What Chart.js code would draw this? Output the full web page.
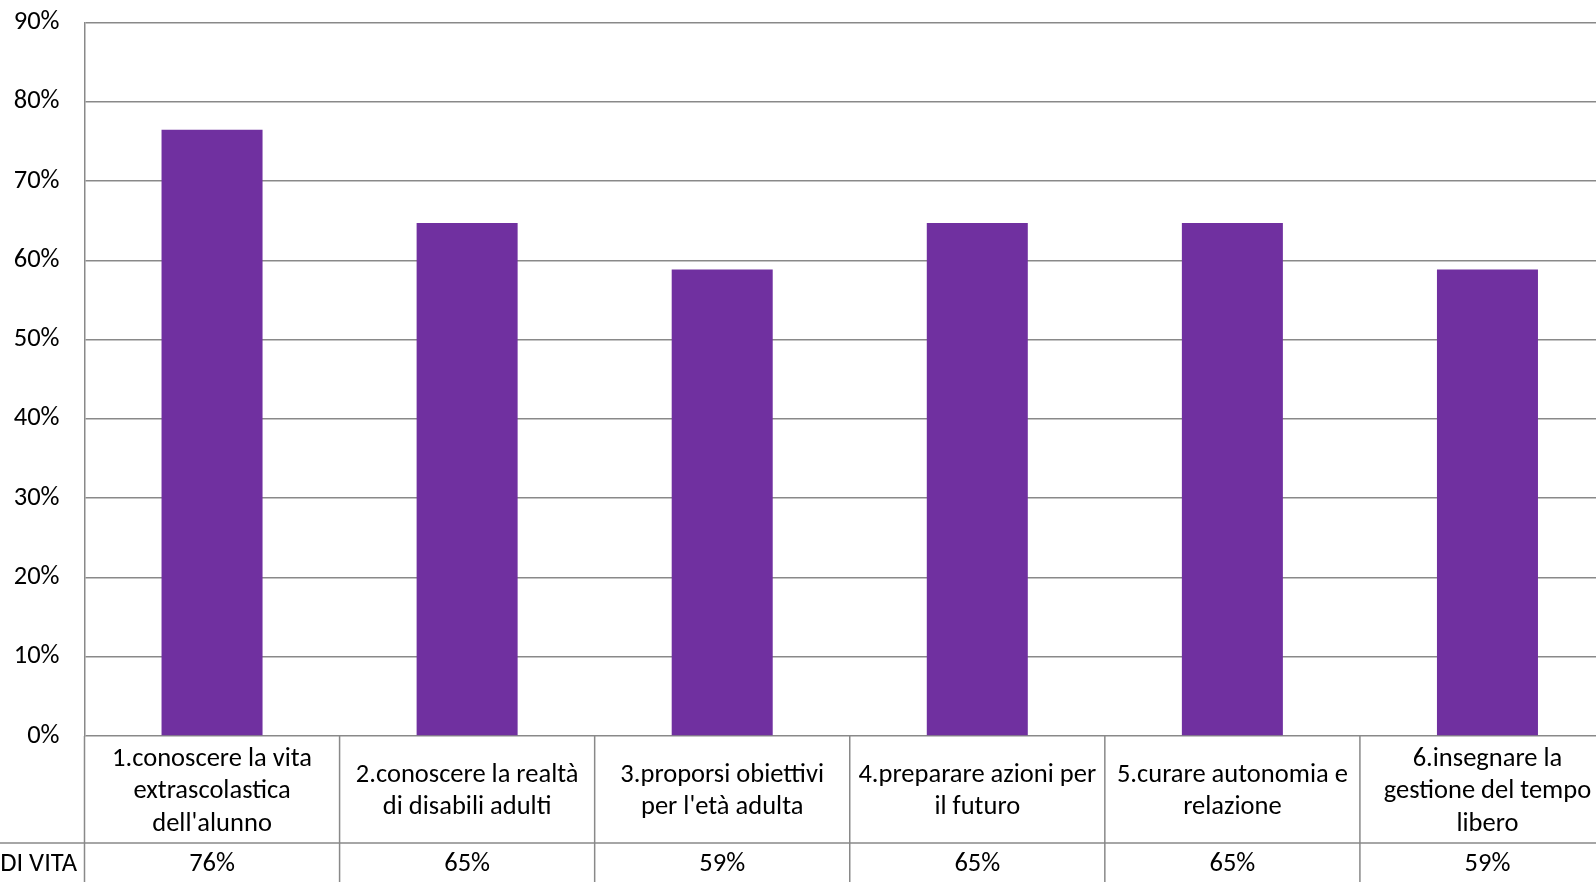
<!DOCTYPE html>
<html>
<head>
<meta charset="utf-8">
<script src="https://cdn.jsdelivr.net/npm/chart.js@4.4.1/dist/chart.umd.min.js"></script>
<style>
    html, body { margin: 0; padding: 0; background: #fff; overflow: hidden; }
    #wrap { position: relative; width: 1615px; height: 882px; }
</style>
</head>
<body>
<div id="wrap"><canvas id="chart"></canvas></div>
<script>
var categories = [
    ['1.conoscere la vita', 'extrascolastica', "dell'alunno"],
    ['2.conoscere la realtà', 'di disabili adulti'],
    ['3.proporsi obiettivi', "per l'età adulta"],
    ['4.preparare azioni per', 'il futuro'],
    ['5.curare autonomia e', 'relazione'],
    ['6.insegnare la', 'gestione del tempo', 'libero']
];
var values = [0.7647, 0.6471, 0.5882, 0.6471, 0.6471, 0.5882];
var tableValues = ['76%', '65%', '59%', '65%', '65%', '59%'];
var seriesName = 'PROGETTO DI VITA';
var yTickMax = 0.9;
var yTickStep = 0.1;

var FONT = 'Carlito, "Open Sans", sans-serif';
var FONT_SIZE = 26.5;
var LINE_COLOR = '#898989';
var TEXT_COLOR = '#000000';

// Excel-style data table under the plot, aligned on the x scale
var dataTable = {
    id: 'dataTable',
    afterDraw: function (chart) {
        var ctx = chart.ctx;
        var area = chart.chartArea;
        var x = chart.scales.x;
        var n = categories.length;
        var w = (area.right - area.left) / n;
        var top = area.bottom;
        var rowSplit = 843;
        var bottom = chart.height;

        ctx.save();
        ctx.strokeStyle = LINE_COLOR;
        ctx.lineWidth = 1.5;
        ctx.beginPath();
        ctx.moveTo(0, rowSplit);
        ctx.lineTo(area.right, rowSplit);
        for (var i = 0; i <= n; i++) {
            var bx = area.left + i * w;
            ctx.moveTo(bx, top);
            ctx.lineTo(bx, bottom);
        }
        ctx.stroke();

        ctx.fillStyle = TEXT_COLOR;
        ctx.font = FONT_SIZE + 'px ' + FONT;
        ctx.textAlign = 'center';
        ctx.textBaseline = 'middle';
        var lineH = 32.6;
        var midCat = (top + rowSplit) / 2 + 2;
        for (var j = 0; j < n; j++) {
            var cx = x.getPixelForValue(j);
            var lines = categories[j];
            var y0 = midCat - (lines.length - 1) * lineH / 2;
            for (var k = 0; k < lines.length; k++) {
                ctx.fillText(lines[k], cx, y0 + k * lineH);
            }
            ctx.fillText(tableValues[j], cx, 864);
        }
        ctx.textAlign = 'right';
        ctx.fillText(seriesName, 77, 864);
        ctx.restore();
    }
};

new Chart(document.getElementById('chart'), {
    type: 'bar',
    data: {
        labels: categories.map(function (c) { return c.join(' '); }),
        datasets: [
            {
                label: seriesName,
                data: values,
                backgroundColor: '#7030A0',
                borderWidth: 0,
                categoryPercentage: 1,
                barPercentage: 0.396
            }
        ]
    },
    options: {
        responsive: true,
        maintainAspectRatio: false,
        animation: false,
        layout: {
            padding: { top: 22.4, right: 0, bottom: 0, left: 0 }
        },
        plugins: {
            legend: { display: false },
            tooltip: { enabled: false }
        },
        scales: {
            x: {
                grid: { display: false, drawTicks: false },
                border: { display: false },
                ticks: { display: false },
                afterFit: function (scale) {
                    scale.height = 146;
                    scale.paddingLeft = 0;
                    scale.paddingRight = 0;
                }
            },
            y: {
                min: 0,
                max: yTickMax,
                ticks: {
                    stepSize: yTickStep,
                    padding: 25,
                    color: TEXT_COLOR,
                    font: { family: FONT, size: FONT_SIZE },
                    callback: function (value) {
                        return Math.round(value * 100) + '%';
                    }
                },
                grid: {
                    color: LINE_COLOR,
                    lineWidth: 1.5,
                    drawTicks: false
                },
                border: { display: true, color: LINE_COLOR, width: 1.5 },
                afterFit: function (scale) {
                    scale.width = 84.5;
                    scale.paddingTop = 0;
                    scale.paddingBottom = 0;
                }
            }
        }
    },
    plugins: [dataTable]
});
</script>
</body>
</html>
